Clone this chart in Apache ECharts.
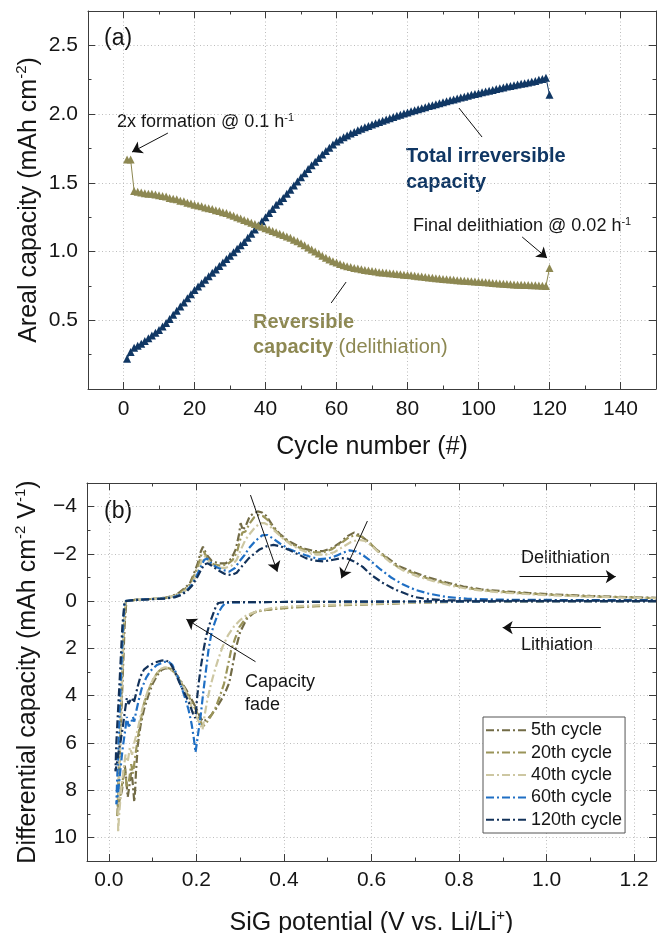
<!DOCTYPE html>
<html><head><meta charset="utf-8">
<script src="https://cdn.jsdelivr.net/npm/echarts@6/dist/echarts.min.js"></script>
<style>html,body{margin:0;padding:0;background:#fff}#c{width:657px;height:933px}</style>
</head><body><div id="c"></div>
<script>
// ---------- Panel (a): areal capacity vs cycle ----------
const totalIrreversible = [
0.22,0.27,0.30,0.315,0.33,0.35,0.37,0.39,0.41,0.43,
0.455,0.48,0.51,0.54,0.57,0.60,0.63,0.66,0.69,0.72,
0.745,0.77,0.795,0.82,0.845,0.87,0.895,0.92,0.945,0.97,
0.995,1.02,1.045,1.07,1.10,1.13,1.16,1.19,1.22,1.25,
1.28,1.31,1.34,1.365,1.39,1.42,1.45,1.48,1.51,1.54,
1.57,1.60,1.627,1.654,1.68,1.706,1.731,1.755,1.778,1.80,
1.816,1.831,1.845,1.858,1.87,1.882,1.893,1.904,1.914,1.924,
1.934,1.943,1.952,1.961,1.97,1.979,1.988,1.996,2.004,2.012,
2.02,2.028,2.036,2.043,2.05,2.058,2.065,2.072,2.079,2.086,
2.093,2.1,2.107,2.113,2.12,2.127,2.133,2.14,2.146,2.152,
2.158,2.164,2.17,2.176,2.182,2.188,2.194,2.2,2.205,2.21,
2.215,2.22,2.225,2.23,2.235,2.24,2.25,2.255,2.265,2.14];
const reversible = [
1.67,1.67,1.44,1.435,1.43,1.425,1.42,1.42,1.415,1.41,
1.405,1.40,1.39,1.385,1.38,1.37,1.365,1.355,1.35,1.34,
1.335,1.33,1.32,1.315,1.31,1.30,1.295,1.285,1.28,1.27,
1.26,1.25,1.24,1.23,1.22,1.21,1.20,1.19,1.18,1.17,
1.16,1.15,1.14,1.13,1.12,1.11,1.10,1.085,1.075,1.06,
1.045,1.03,1.015,1.00,0.985,0.97,0.955,0.942,0.93,0.92,
0.91,0.90,0.893,0.887,0.881,0.876,0.871,0.866,0.862,0.858,
0.854,0.85,0.847,0.845,0.842,0.84,0.837,0.835,0.832,0.83,
0.827,0.824,0.821,0.818,0.815,0.812,0.809,0.806,0.803,0.80,
0.798,0.796,0.794,0.792,0.79,0.788,0.786,0.784,0.782,0.78,
0.778,0.776,0.774,0.772,0.77,0.768,0.766,0.764,0.762,0.76,
0.759,0.758,0.757,0.756,0.755,0.754,0.753,0.752,0.75,0.88];
const minorTicksAx = [10,30,50,70,90,110,130];
const minorTicksAy = [0.25,0.75,1.25,1.75,2.25];

// ---------- Panel (b): differential capacity [potential V, dQ/dV] ----------
const cycle5 = [
[1.25,0],[1.10,0],[0.95,0.01],[0.80,0.02],[0.70,0.06],[0.60,0.12],[0.50,0.18],[0.42,0.25],[0.38,0.32],[0.35,0.40],
[0.332,0.48],[0.315,0.75],[0.30,1.3],[0.29,2.0],[0.282,2.8],[0.275,3.45],[0.265,3.9],[0.256,4.2],[0.245,4.55],[0.235,4.8],
[0.225,5.0],[0.215,5.1],[0.208,4.9],[0.20,4.55],[0.19,4.2],[0.18,3.85],[0.17,3.55],[0.16,3.25],[0.15,3.0],[0.14,2.86],
[0.13,2.84],[0.12,2.92],[0.11,3.15],[0.10,3.5],[0.09,4.0],[0.08,4.6],[0.072,5.3],[0.066,6.1],[0.062,7.2],[0.060,8.0],
[0.058,8.5],[0.054,7.6],[0.051,7.2],[0.047,7.8],[0.043,8.3],[0.039,7.4],[0.036,6.9],[0.033,7.5],[0.030,8.0],[0.025,8.4],[0.020,8.9],
[0.022,8.0],[0.030,4.0],[0.036,1.0],[0.040,0],[0.060,-0.05],[0.10,-0.10],[0.13,-0.15],[0.145,-0.22],[0.16,-0.35],[0.173,-0.55],
[0.185,-0.75],[0.195,-1.2],[0.203,-1.6],[0.210,-2.1],[0.215,-2.3],[0.220,-2.1],[0.226,-1.9],[0.235,-1.7],[0.250,-1.6],[0.267,-1.6],
[0.280,-1.8],[0.290,-2.2],[0.297,-2.8],[0.301,-3.3],[0.306,-3.0],[0.313,-3.2],[0.322,-3.6],[0.330,-3.7],[0.340,-3.8],[0.350,-3.75],
[0.360,-3.6],[0.374,-3.2],[0.390,-2.85],[0.410,-2.55],[0.430,-2.35],[0.450,-2.2],[0.470,-2.12],[0.490,-2.12],[0.510,-2.25],[0.530,-2.5],
[0.545,-2.75],[0.560,-2.9],[0.575,-2.78],[0.590,-2.55],[0.610,-2.2],[0.635,-1.85],[0.660,-1.5],[0.700,-1.2],[0.730,-1.0],[0.770,-0.8],
[0.810,-0.62],[0.850,-0.5],[0.900,-0.42],[0.960,-0.34],[1.020,-0.28],[1.100,-0.22],[1.180,-0.17],[1.250,-0.14]];
const cycle20 = [
[1.25,0],[1.10,0],[0.95,0.01],[0.80,0.03],[0.70,0.07],[0.60,0.13],[0.50,0.19],[0.42,0.27],[0.37,0.35],[0.34,0.42],
[0.324,0.55],[0.31,0.8],[0.298,1.1],[0.288,1.6],[0.279,2.1],[0.27,2.9],[0.263,3.5],[0.254,4.0],[0.244,4.5],[0.232,4.9],
[0.221,5.2],[0.215,5.3],[0.208,5.05],[0.20,4.65],[0.19,4.3],[0.18,3.95],[0.17,3.6],[0.16,3.3],[0.15,3.02],[0.14,2.86],
[0.13,2.8],[0.12,2.86],[0.11,3.05],[0.10,3.35],[0.09,3.8],[0.08,4.35],[0.073,5.0],[0.066,5.8],[0.060,6.6],[0.055,7.3],
[0.051,6.9],[0.046,7.6],[0.041,7.9],[0.037,7.1],[0.033,7.4],[0.028,8.0],[0.023,8.6],[0.019,9.1],
[0.021,8.2],[0.028,4.5],[0.034,1.2],[0.039,0],[0.06,-0.05],[0.10,-0.10],[0.13,-0.14],[0.145,-0.2],[0.16,-0.32],[0.173,-0.5],
[0.185,-0.7],[0.195,-1.1],[0.204,-1.5],[0.211,-1.95],[0.217,-2.1],[0.222,-1.9],[0.229,-1.7],[0.24,-1.55],[0.255,-1.5],[0.27,-1.55],
[0.283,-1.75],[0.293,-2.1],[0.30,-2.6],[0.305,-2.9],[0.312,-2.95],[0.322,-3.3],[0.332,-3.55],[0.342,-3.65],[0.352,-3.6],[0.362,-3.45],
[0.376,-3.1],[0.39,-2.8],[0.41,-2.5],[0.43,-2.3],[0.45,-2.15],[0.47,-2.06],[0.49,-2.06],[0.51,-2.2],[0.53,-2.45],[0.548,-2.7],
[0.563,-2.8],[0.578,-2.72],[0.594,-2.5],[0.613,-2.15],[0.637,-1.78],[0.66,-1.45],[0.70,-1.15],[0.73,-0.95],[0.77,-0.75],[0.81,-0.58],
[0.85,-0.47],[0.90,-0.39],[0.96,-0.32],[1.02,-0.26],[1.10,-0.2],[1.18,-0.16],[1.25,-0.13]];
const cycle40 = [
[1.25,0],[1.10,0],[0.95,0.01],[0.80,0.03],[0.70,0.06],[0.60,0.11],[0.50,0.16],[0.42,0.22],[0.37,0.3],[0.34,0.42],
[0.325,0.52],[0.313,0.62],[0.30,0.8],[0.286,1.07],[0.272,1.45],[0.26,1.92],[0.25,2.45],[0.24,3.05],[0.232,3.6],[0.225,4.17],
[0.219,4.8],[0.214,5.44],[0.208,5.2],[0.20,4.9],[0.191,4.6],[0.18,4.0],[0.17,3.6],[0.16,3.3],[0.15,3.05],[0.14,2.88],
[0.13,2.8],[0.12,2.85],[0.11,3.05],[0.10,3.35],[0.09,3.75],[0.08,4.3],[0.072,4.9],[0.065,5.5],[0.058,6.0],[0.053,6.5],
[0.048,6.2],[0.043,6.8],[0.038,6.5],[0.033,7.2],[0.028,8.0],[0.024,8.9],[0.021,9.8],
[0.022,8.4],[0.028,4.5],[0.033,1.2],[0.038,0],[0.06,-0.05],[0.10,-0.1],[0.13,-0.13],[0.145,-0.18],[0.16,-0.28],[0.175,-0.45],
[0.187,-0.65],[0.197,-1.0],[0.206,-1.4],[0.214,-1.8],[0.22,-1.9],[0.226,-1.75],[0.235,-1.55],[0.25,-1.42],[0.265,-1.4],[0.28,-1.5],
[0.292,-1.75],[0.302,-2.2],[0.312,-2.6],[0.322,-2.85],[0.333,-3.1],[0.345,-3.3],[0.356,-3.3],[0.366,-3.2],[0.38,-2.95],[0.395,-2.7],
[0.415,-2.4],[0.435,-2.2],[0.455,-2.05],[0.475,-1.97],[0.495,-1.97],[0.515,-2.07],[0.535,-2.3],[0.553,-2.5],[0.57,-2.6],[0.585,-2.55],
[0.60,-2.35],[0.62,-2.0],[0.645,-1.62],[0.67,-1.32],[0.70,-1.08],[0.74,-0.85],[0.78,-0.66],[0.82,-0.52],[0.86,-0.43],[0.91,-0.35],
[0.97,-0.28],[1.03,-0.23],[1.10,-0.19],[1.18,-0.15],[1.25,-0.12]];
const cycle60 = [
[1.25,0],[1.00,0],[0.80,0.01],[0.60,0.02],[0.46,0.03],[0.35,0.04],[0.30,0.05],[0.275,0.06],[0.265,0.1],[0.258,0.25],
[0.25,0.5],[0.242,0.9],[0.235,1.3],[0.228,2.0],[0.222,2.9],[0.216,3.8],[0.21,4.8],[0.204,5.6],[0.198,6.4],[0.194,5.8],
[0.189,5.2],[0.182,4.6],[0.175,4.15],[0.165,3.6],[0.155,3.1],[0.145,2.7],[0.135,2.55],[0.125,2.58],[0.11,2.7],[0.095,2.95],
[0.085,3.25],[0.075,3.7],[0.068,4.2],[0.062,4.7],[0.058,5.1],[0.055,4.9],[0.05,5.2],[0.045,5.3],[0.041,4.9],[0.037,5.5],
[0.031,6.3],[0.026,7.2],[0.021,8.1],[0.017,8.6],
[0.019,7.5],[0.026,4.0],[0.032,1.2],[0.036,0],[0.06,-0.05],[0.10,-0.09],[0.13,-0.12],[0.15,-0.18],[0.165,-0.28],[0.178,-0.45],
[0.19,-0.7],[0.20,-1.05],[0.21,-1.45],[0.218,-1.75],[0.225,-1.8],[0.233,-1.62],[0.244,-1.46],[0.26,-1.32],[0.275,-1.25],[0.288,-1.4],
[0.298,-1.68],[0.31,-1.95],[0.32,-2.24],[0.335,-2.55],[0.35,-2.78],[0.362,-2.8],[0.375,-2.65],[0.39,-2.45],[0.41,-2.22],[0.435,-2.03],
[0.46,-1.88],[0.48,-1.78],[0.50,-1.8],[0.52,-1.92],[0.535,-2.05],[0.55,-2.15],[0.565,-2.1],[0.58,-1.95],[0.595,-1.75],[0.62,-1.35],
[0.645,-1.0],[0.67,-0.72],[0.70,-0.48],[0.73,-0.32],[0.77,-0.18],[0.82,-0.1],[0.90,-0.06],[1.00,-0.05],[1.10,-0.04],[1.25,-0.04]];
const cycle120 = [
[1.25,0],[1.00,0],[0.80,0.01],[0.60,0.02],[0.46,0.03],[0.35,0.04],[0.29,0.04],[0.26,0.05],[0.25,0.08],[0.245,0.2],
[0.24,0.45],[0.234,0.75],[0.228,1.1],[0.222,1.5],[0.216,2.1],[0.21,2.8],[0.205,3.5],[0.201,4.2],[0.199,4.7],[0.197,4.95],
[0.192,4.75],[0.185,4.4],[0.178,4.1],[0.17,3.8],[0.16,3.4],[0.15,2.95],[0.14,2.62],[0.13,2.5],[0.12,2.52],[0.105,2.6],
[0.09,2.75],[0.08,2.9],[0.072,3.2],[0.066,3.6],[0.061,4.0],[0.057,4.3],[0.053,4.1],[0.049,4.2],[0.045,4.35],[0.041,4.1],
[0.037,4.6],[0.032,5.3],[0.027,5.9],[0.022,6.4],[0.018,6.9],[0.015,7.2],
[0.017,6.0],[0.025,3.2],[0.031,1.0],[0.036,0],[0.06,-0.05],[0.10,-0.08],[0.13,-0.11],[0.15,-0.16],[0.165,-0.25],[0.178,-0.42],
[0.19,-0.65],[0.20,-0.95],[0.21,-1.3],[0.218,-1.55],[0.226,-1.6],[0.235,-1.5],[0.25,-1.3],[0.265,-1.15],[0.28,-1.1],[0.292,-1.2],
[0.305,-1.5],[0.32,-1.82],[0.343,-2.17],[0.36,-2.32],[0.376,-2.38],[0.392,-2.32],[0.41,-2.18],[0.43,-2.0],[0.45,-1.82],[0.47,-1.72],
[0.49,-1.68],[0.51,-1.74],[0.53,-1.82],[0.545,-1.8],[0.56,-1.68],[0.58,-1.45],[0.60,-1.1],[0.625,-0.78],[0.655,-0.48],[0.68,-0.3],
[0.70,-0.17],[0.73,-0.08],[0.78,-0.03],[0.90,-0.02],[1.05,-0.02],[1.25,-0.02]];
const minorTicksBx = [0.1,0.3,0.5,0.7,0.9,1.1];
const minorTicksBy = [-3,-1,1,3,5,7,9];
const legendNames = ['5th cycle','20th cycle','40th cycle','60th cycle','120th cycle'];
const seriesColors = ['#726b46','#9a9459','#cdc7a2','#1f6fc4','#13325a'];

// ---------- styling ----------
const FONT = '"Liberation Sans", Arial, Helvetica, sans-serif';
const AX = '#3c3c3c';
const TXT = '#151515';
const NAVY = '#103764';
const OLIVE = '#8d8852';

function axisSet(dim, gridIndex, o) {
  const pos = dim === 'x' ? ['bottom', 'top'] : ['left', 'right'];
  const base = { type: 'value', gridIndex, min: o.min, max: o.max, splitNumber: o.split, inverse: !!o.inverse };
  const nameStyle = { fontSize: 25, fontFamily: FONT, color: TXT, lineHeight: 30,
    rich: { s: { fontSize: 15, fontFamily: FONT, color: TXT, verticalAlign: 'top', lineHeight: 16 } } };
  const main = Object.assign({}, base, {
    position: pos[0],
    axisLine: { show: true, onZero: false, lineStyle: { color: AX, width: 1 } },
    axisTick: { show: true, inside: true, length: 7, lineStyle: { color: AX, width: 1 } },
    minorTick: { show: false },
    axisLabel: { show: true, margin: o.margin, fontSize: 21, fontFamily: FONT, color: TXT,
      formatter: o.fmt, showMinLabel: false, showMaxLabel: false },
    splitLine: { show: true, lineStyle: { color: '#bdbdbd', width: 1, type: [1, 2.5] } },
    name: o.name, nameLocation: 'middle', nameGap: o.nameGap, nameMoveOverlap: false, nameTextStyle: nameStyle
  });
  const mainMinor = Object.assign({}, base, {
    position: pos[0],
    axisLine: { show: false, onZero: false },
    axisTick: { show: true, inside: true, length: 3.5, customValues: o.minor, lineStyle: { color: AX, width: 1 } },
    axisLabel: { show: false }, splitLine: { show: false }, minorTick: { show: false }
  });
  const mirror = Object.assign({}, base, {
    position: pos[1],
    axisLine: { show: true, onZero: false, lineStyle: { color: AX, width: 1 } },
    axisTick: { show: true, inside: true, length: 7, lineStyle: { color: AX, width: 1 } },
    axisLabel: { show: false }, splitLine: { show: false }, minorTick: { show: false }
  });
  const mirrorMinor = Object.assign({}, mainMinor, { position: pos[1] });
  return [main, mainMinor, mirror, mirrorMinor];
}

const xAxes = [].concat(
  axisSet('x', 0, { min: -10, max: 150, split: 8, minor: minorTicksAx, margin: 10,
    fmt: v => String(Math.round(v)), name: 'Cycle number (#)', nameGap: 43 }),
  axisSet('x', 1, { min: -0.05, max: 1.25, split: 6, minor: minorTicksBx, margin: 9,
    fmt: v => v.toFixed(1), name: 'SiG potential (V vs. Li/Li{s|+})', nameGap: 47 })
);
const yAxes = [].concat(
  axisSet('y', 0, { min: 0, max: 2.75, split: 5, minor: minorTicksAy, margin: 10,
    fmt: v => v.toFixed(1), name: 'Areal capacity (mAh cm{s|-2})', nameGap: 44 }),
  axisSet('y', 1, { min: -5, max: 11, split: 8, inverse: true, minor: minorTicksBy, margin: 10,
    fmt: v => (v < 0 ? '\u2212' + Math.abs(v) : String(v)), name: 'Differential capacity (mAh cm{s|-2} V{s|-1})', nameGap: 44 })
);

const arrowLine = { color: '#111', width: 1, type: 'solid' };
function seg(a, b, head) {
  return [{ coord: a, symbol: 'none' }, { coord: b, symbol: head ? 'arrow' : 'none', symbolSize: 10 }];
}

const series = [
  { name: 'Total irreversible capacity', type: 'line', xAxisIndex: 0, yAxisIndex: 0,
    data: totalIrreversible.map((v, i) => [i + 1, v]),
    symbol: 'triangle', symbolSize: 8, showAllSymbol: true,
    itemStyle: { color: NAVY }, lineStyle: { color: NAVY, width: 1 },
    markLine: { silent: true, animation: false, label: { show: false }, emphasis: { disabled: true },
      lineStyle: arrowLine, symbol: ['none', 'none'],
      data: [
        seg([12.5, 1.862], [2.4, 1.724], true),
        seg([112.3, 1.106], [119.3, 0.953], true),
        seg([94.5, 2.044], [101, 1.833], false),
        seg([62.7, 0.778], [58.5, 0.626], false)
      ] } },
  { name: 'Reversible capacity', type: 'line', xAxisIndex: 0, yAxisIndex: 0,
    data: reversible.map((v, i) => [i + 1, v]),
    symbol: 'triangle', symbolSize: 8, showAllSymbol: true,
    itemStyle: { color: OLIVE }, lineStyle: { color: OLIVE, width: 1 } }
];
[cycle5, cycle20, cycle40, cycle60, cycle120].forEach((d, k) => {
  const s = { name: legendNames[k], type: 'line', xAxisIndex: 4, yAxisIndex: 4, data: d,
    symbol: 'none', showSymbol: false,
    itemStyle: { color: seriesColors[k] },
    lineStyle: { color: seriesColors[k], width: 2.2, type: [8, 3, 2, 3] } };
  if (k === 4) {
    s.markLine = { silent: true, animation: false, label: { show: false }, emphasis: { disabled: true },
      lineStyle: arrowLine, symbol: ['none', 'none'],
      data: [
        seg([0.3235, -4.49], [0.3848, -1.246], true),
        seg([0.5906, -3.39], [0.5312, -0.966], true),
        seg([0.335, 2.564], [0.177, 0.769], true),
        seg([0.938, -1.034], [1.158, -1.034], true),
        seg([1.124, 1.125], [0.8997, 1.125], true)
      ] };
  }
  series.push(s);
});

const sup = { fontSize: 11, fontFamily: FONT, color: TXT, verticalAlign: 'top', lineHeight: 11 };
const graphic = [
  { type: 'text', left: 104, top: 26, style: { text: '(a)', fontSize: 23, fontFamily: FONT, fill: TXT, lineHeight: 25 } },
  { type: 'text', left: 117, top: 112, style: { text: '2x formation @ 0.1 h{s|-1}', fontSize: 18, fontFamily: FONT, fill: TXT, lineHeight: 20, rich: { s: sup } } },
  { type: 'text', left: 413, top: 216, style: { text: 'Final delithiation @ 0.02 h{s|-1}', fontSize: 18, fontFamily: FONT, fill: TXT, lineHeight: 20, rich: { s: sup } } },
  { type: 'text', left: 406, top: 143, style: { text: 'Total irreversible\ncapacity', fontSize: 20, fontWeight: 'bold', fontFamily: FONT, fill: NAVY, lineHeight: 26 } },
  { type: 'text', left: 253, top: 310, style: { text: '{b|Reversible}\n{b|capacity} {n|(delithiation)}', fontSize: 20, fontFamily: FONT, fill: OLIVE, lineHeight: 25,
      rich: { b: { fontSize: 20, fontWeight: 'bold', fontFamily: FONT, color: OLIVE, lineHeight: 25 },
              n: { fontSize: 20, fontFamily: FONT, color: '#a9a474', lineHeight: 25 } } } },
  { type: 'text', left: 104, top: 499, style: { text: '(b)', fontSize: 23, fontFamily: FONT, fill: TXT, lineHeight: 25 } },
  { type: 'text', left: 521, top: 548, style: { text: 'Delithiation', fontSize: 18, fontFamily: FONT, fill: TXT, lineHeight: 20 } },
  { type: 'text', left: 521, top: 635, style: { text: 'Lithiation', fontSize: 18, fontFamily: FONT, fill: TXT, lineHeight: 20 } },
  { type: 'text', left: 245, top: 671, style: { text: 'Capacity\nfade', fontSize: 18, fontFamily: FONT, fill: TXT, lineHeight: 22.5 } }
];

const chart = echarts.init(document.getElementById('c'), null, { renderer: 'canvas' });
chart.setOption({
  animation: false,
  backgroundColor: '#fff',
  textStyle: { fontFamily: FONT },
  grid: [
    { left: 88, right: 1, top: 11, bottom: 544, outerBoundsMode: 'none' },
    { left: 87, right: 1, top: 483, bottom: 72, outerBoundsMode: 'none' }
  ],
  xAxis: xAxes,
  yAxis: yAxes,
  legend: {
    data: legendNames, orient: 'vertical', left: 483, top: 717,
    itemWidth: 40, itemHeight: 14, itemGap: 2, padding: [3, 3, 3, 2],
    borderColor: '#555', borderWidth: 1, backgroundColor: '#fff',
    itemStyle: { color: 'rgba(0,0,0,0)', borderColor: 'rgba(0,0,0,0)', borderWidth: 0, opacity: 0 },
    textStyle: { fontSize: 18, fontFamily: FONT, color: TXT, lineHeight: 20.4 },
    selectedMode: false
  },
  graphic,
  series
});
</script>
</body></html>
